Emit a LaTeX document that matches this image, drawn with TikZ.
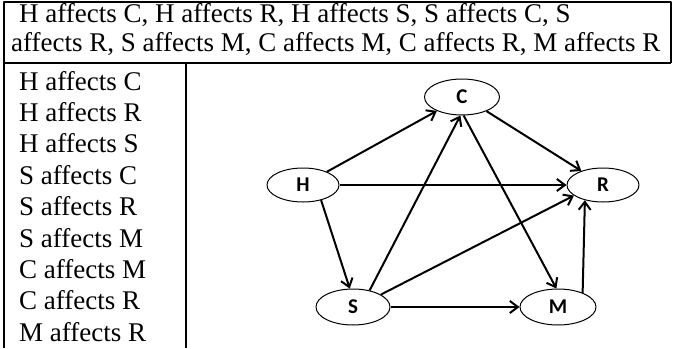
\documentclass[tikz,border=0pt]{standalone}
\usepackage{fontspec}
\setmainfont{Liberation Serif}
\newfontfamily\labelfont{Carlito}
\usetikzlibrary{arrows.meta,shapes.geometric}

\tikzset{
  factor/.style={ellipse,draw,line width=1pt,minimum width=75pt,minimum height=36pt,inner sep=0pt,
    font=\labelfont\bfseries\fontsize{21}{21}\selectfont},
  infl/.style={-{Straight Barb[length=8pt,width=12pt]},line width=2pt},
  rowtext/.style={anchor=base west,inner sep=0pt,font=\fontsize{27}{27}\selectfont},
  rule/.style={line width=2pt}
}

\begin{document}
\begin{tikzpicture}[x=1pt,y=-1pt,line join=round]
  \useasboundingbox (0,0) rectangle (674,348);
  \draw[rule] (4,348) -- (4,2) -- (671,2) -- (671,63);
  \draw[rule] (4,63) -- (671,63);
  \draw[rule] (186,63) -- (186,348);
  \node[rowtext] (head1) at (19,23) {H affects C, H affects R, H affects S, S affects C, S};
  \node[rowtext] (head2) at (11,51) {affects R, S affects M, C affects M, C affects R, M affects R};
  \node[rowtext] (l1) at (19,90.0) {H affects C};
  \node[rowtext] (l2) at (19,121.4) {H affects R};
  \node[rowtext] (l3) at (19,152.8) {H affects S};
  \node[rowtext] (l4) at (19,184.2) {S affects C};
  \node[rowtext] (l5) at (19,215.6) {S affects R};
  \node[rowtext] (l6) at (19,247.0) {S affects M};
  \node[rowtext] (l7) at (19,278.4) {C affects M};
  \node[rowtext] (l8) at (19,309.8) {C affects R};
  \node[rowtext] (l9) at (19,341.2) {M affects R};
  \node[factor] (C) at (462,97) {C};
  \node[factor,minimum width=72pt,minimum height=34pt] (H) at (303,185) {H};
  \node[factor,minimum width=72pt,minimum height=34pt] (R) at (603,185) {R};
  \node[factor,minimum width=74pt] (S) at (353,307) {S};
  \node[factor,minimum width=76pt] (M) at (558,307) {M};
  \draw[infl] (H) -- (C);
  \draw[infl] (H) -- (R);
  \draw[infl] (H.-40) -- (S.100);
  \draw[infl] (S.45) -- (C.-95);
  \draw[infl] (S.24) -- (R.-160);
  \draw[infl] (S) -- (M);
  \draw[infl] (C.-85) -- (M.95);
  \draw[infl] (C.-30) -- (R.147);
  \draw[infl] (M.30) -- (R.-140);
\end{tikzpicture}
\end{document}
